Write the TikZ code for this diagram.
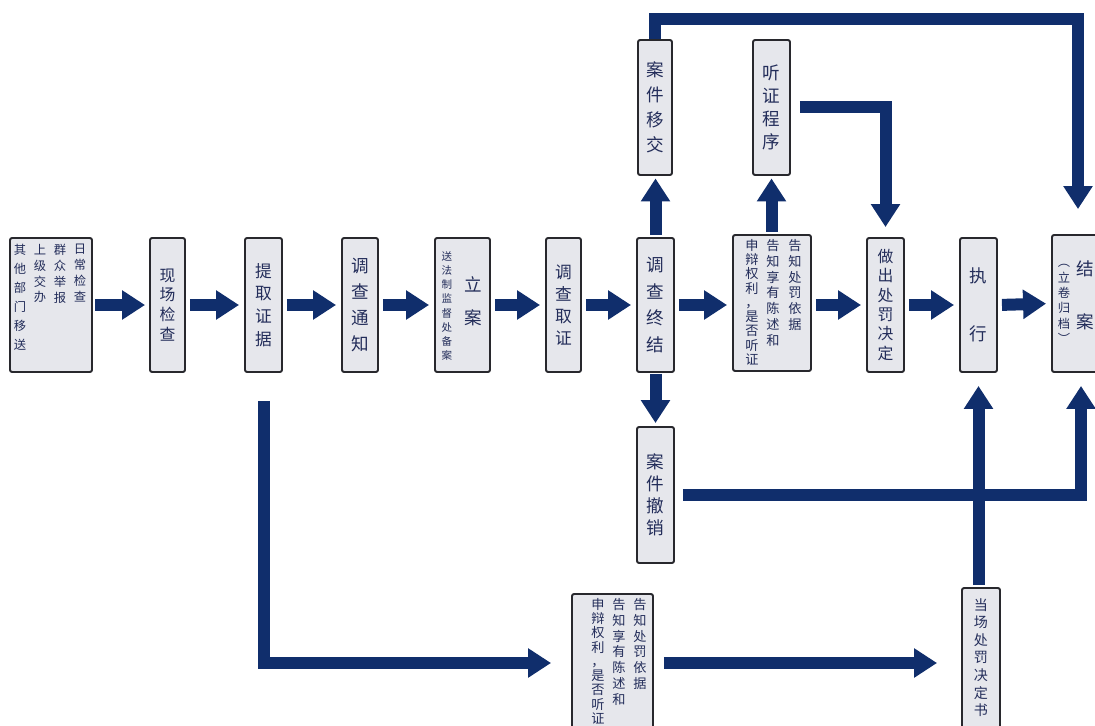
\documentclass[tikz,border=0pt]{standalone}
\usepackage{fontspec}
\newfontfamily\cjk{Noto Sans CJK SC}
\usetikzlibrary{arrows.meta}
\definecolor{arrc}{RGB}{16,46,108}
\definecolor{boxfill}{RGB}{230,231,236}
\definecolor{boxline}{RGB}{40,40,45}
\definecolor{txt}{RGB}{35,45,90}
\newcommand\cf[2]{\cjk\fontsize{#1}{#2}\selectfont}
\begin{document}
\begin{tikzpicture}[x=0.02cm,y=-0.02cm,
  box/.style={draw=boxline, line width=1.1pt, fill=boxfill, rounded corners=1.2pt, inner sep=0pt, text=txt, align=center},
  vcol/.style={inner sep=0pt, text=txt, align=center, anchor=north},
  arr/.style={draw=arrc, line width=0.24cm, line join=miter, -{Triangle[width=0.56cm,length=0.46cm]}},
]
\useasboundingbox (0,0) rectangle (1095,726);
\clip (0,0) rectangle (1095,726);

% source box
\node[box, minimum width=1.64cm, minimum height=2.68cm] (src) at (51,305) {};
\node[vcol, font=\cf{7}{9}] (s1) at (80,244) {日\\常\\检\\查};
\node[vcol, font=\cf{7}{9}] (s2) at (60,244) {群\\众\\举\\报};
\node[vcol, font=\cf{7}{9}] (s3) at (40,244) {上\\级\\交\\办};
\node[vcol, font=\cf{7}{10.8}] (s4) at (20,244) {其\\他\\部\\门\\移\\送};

\node[box, minimum width=0.7cm, minimum height=2.68cm, font=\cf{9}{11.3}] (xc) at (167.5,305) {现\\场\\检\\查};
\node[box, minimum width=0.74cm, minimum height=2.68cm, font=\cf{9.5}{13}] (tq) at (263.5,305) {提\\取\\证\\据};
\node[box, minimum width=0.72cm, minimum height=2.68cm, font=\cf{10}{14.7}] (tz) at (360,305) {调\\查\\通\\知};

\node[box, minimum width=1.1cm, minimum height=2.68cm] (la) at (462.5,305) {};
\node[font=\cf{6}{8}, inner sep=0pt, text=txt, align=center] (la1) at (447,306) {送\\法\\制\\监\\督\\处\\备\\案};
\node[font=\cf{10}{19}, inner sep=0pt, text=txt, align=center] (la2) at (473,301) {立\\案};

\node[box, minimum width=0.7cm, minimum height=2.68cm, font=\cf{9.5}{12.5}] (qz) at (563.5,305) {调\\查\\取\\证};
\node[box, minimum width=0.74cm, minimum height=2.68cm, font=\cf{10}{15.3}] (zj) at (655.5,305) {调\\查\\终\\结};

\node[box, minimum width=1.56cm, minimum height=2.72cm] (gz) at (772,303) {};
\node[vcol, font=\cf{7.5}{9}] (gz1) at (795,239) {告\\知\\处\\罚\\依\\据};
\node[vcol, font=\cf{7.5}{9}] (gz2) at (773,239) {告\\知\\享\\有\\陈\\述\\和};
\node[vcol, font=\cf{7.5}{8.1}] (gz3) at (752,239) {申\\辩\\权\\利\\，\\是\\否\\听\\证};

\node[box, minimum width=0.74cm, minimum height=2.68cm, font=\cf{9}{11}] (zc) at (885.5,305) {做\\出\\处\\罚\\决\\定};
\node[box, minimum width=0.74cm, minimum height=2.68cm, font=\cf{10}{33}] (zx) at (978.5,305) {执\\行};

\node[box, minimum width=1.16cm, minimum height=2.74cm] (ja) at (1081,303.5) {};
\node[font=\cf{10}{30}, inner sep=0pt, text=txt, align=center] (ja1) at (1085,295) {结\\案};
\node[font=\cf{7}{8.7}, inner sep=0pt, text=txt, align=center] (ja2) at (1064,304) {︵\\立\\卷\\归\\档\\︶};

\node[box, minimum width=0.68cm, minimum height=2.7cm, font=\cf{10}{14.2}] (yj) at (655,107.5) {案\\件\\移\\交};
\node[box, minimum width=0.74cm, minimum height=2.7cm, font=\cf{10}{13}] (tzx) at (771.5,107.5) {听\\证\\程\\序};
\node[box, minimum width=0.74cm, minimum height=2.72cm, font=\cf{10}{12.5}] (cx) at (655.5,495) {案\\件\\撤\\销};

\node[box, minimum width=1.62cm, minimum height=2.76cm] (gb) at (612.5,663) {};
\node[vcol, font=\cf{7.5}{9}] (gb1) at (640,598) {告\\知\\处\\罚\\依\\据};
\node[vcol, font=\cf{7.5}{9}] (gb2) at (619,598) {告\\知\\享\\有\\陈\\述\\和};
\node[vcol, font=\cf{7.5}{8.1}] (gb3) at (598,598) {申\\辩\\权\\利\\，\\是\\否\\听\\证};

\node[box, minimum width=0.76cm, minimum height=3.04cm] (dc) at (981,664) {};
\node[vcol, font=\cf{8}{10}] (dc1) at (981,598) {当\\场\\处\\罚\\决\\定\\书};

% main horizontal arrows
\draw[arr, shorten <=0.05cm, shorten >=0.08cm] (src.east) -- (xc.west);
\draw[arr, shorten <=0.08cm, shorten >=0.1cm] (xc.east) -- (tq.west);
\draw[arr, shorten <=0.08cm, shorten >=0.1cm] (tq.east) -- (tz.west);
\draw[arr, shorten <=0.08cm, shorten >=0.1cm] (tz.east) -- (la.west);
\draw[arr, shorten <=0.08cm, shorten >=0.1cm] (la.east) -- (qz.west);
\draw[arr, shorten <=0.08cm, shorten >=0.1cm] (qz.east) -- (zj.west);
\draw[arr, shorten <=0.08cm, shorten >=0.1cm] (zj.east) -- (zj.east -| gz.west);
\draw[arr, shorten <=0.08cm, shorten >=0.1cm] (gz.east |- zc.west) -- (zc.west);
\draw[arr, shorten <=0.08cm, shorten >=0.1cm] (zc.east) -- (zx.west);
\draw[arr, shorten <=0.08cm, shorten >=0.1cm] (zx.east) -- (ja.west);

% vertical branches
\draw[arr, shorten <=0.05cm, shorten >=0.05cm] (zj.north) -- (zj.north |- yj.south);
\draw[arr, shorten <=0.05cm, shorten >=0.05cm] (tzx.south |- gz.north) -- (tzx.south);
\draw[arr, shorten <=0.02cm, shorten >=0.06cm] (zj.south) -- (zj.south |- cx.north);

% top loop to 结案
\coordinate (tr) at (1078,19);
\draw[arr, shorten >=0.5cm] (yj.north) |- (tr) -- (tr |- ja.north);
% 听证 to 做出处罚决定
\draw[arr, shorten <=0.18cm, shorten >=0.2cm] (tzx.east) -| (zc.north);
% 撤销 to 结案
\draw[arr, shorten <=0.16cm, shorten >=0.26cm] (cx.east) -| (ja.south);
% 当场处罚决定书 to 执行
\draw[arr, shorten <=0.04cm, shorten >=0.26cm] (zx.south |- dc.north) -- (zx.south);
% 提取证据 down to bottom box
\draw[arr, shorten <=0.56cm, shorten >=0.4cm] (tq.south) |- (gb.west);
% bottom box to 当场处罚决定书
\draw[arr, shorten <=0.2cm, shorten >=0.48cm] (gb.east) -- (gb.east -| dc.west);
\end{tikzpicture}
\end{document}
